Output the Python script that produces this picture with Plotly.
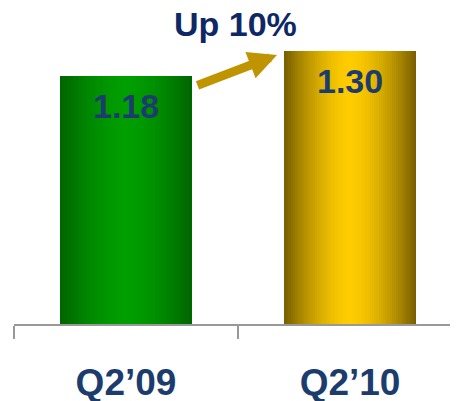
import plotly.graph_objects as go

categories = ["Q2\u201909", "Q2\u201910"]
values = [1.18, 1.30]
value_labels = ["1.18", "1.30"]
headline = "Up 10%"

# gradient colors (edge -> center) per bar
edge_colors = [(0, 100, 0), (118, 93, 0)]
center_colors = [(0, 158, 0), (255, 204, 0)]

FONT = "Arial, Liberation Sans, sans-serif"
NAVY = "#1c3c6e"

fig = go.Figure()

N = 30
BAR_W = 0.59
for i in range(N):
    frac = 1 - i / N               # width fraction of this layer
    t = (N - i - 0.5) / N          # normalized distance from center
    k = t ** 1.6
    cols = []
    for e, c in zip(edge_colors, center_colors):
        rgb = tuple(round(cc + (ee - cc) * k) for ee, cc in zip(e, c))
        cols.append("rgb(%d,%d,%d)" % rgb)
    fig.add_trace(go.Bar(
        x=categories, y=values, width=BAR_W * frac,
        marker=dict(color=cols, line=dict(width=0)),
        showlegend=False, hoverinfo="skip",
    ))

for cat, v, lab in zip(categories, values, value_labels):
    fig.add_annotation(x=cat, y=v, text=lab, showarrow=False,
                       yanchor="middle", yshift=-30,
                       font=dict(family=FONT, size=34, color=NAVY, weight="bold"))

# growth arrow between bars
fig.add_annotation(x=0.674, y=1.28, xref="x", yref="y", text="",
                   showarrow=True, arrowhead=2, arrowsize=0.63, arrowwidth=9,
                   arrowcolor="#bf9400", ax=-81, ay=31, standoff=0)

fig.add_annotation(x=0.5, y=1.428, xref="x", yref="y", text=headline,
                   showarrow=False, xshift=-3, yanchor="middle",
                   font=dict(family=FONT, size=34, color="#0e2866", weight="bold"))

# page body adds an 8px offset; figure sized to end at the window edge
fig.update_layout(
    width=450, height=393,
    margin=dict(l=6, r=0, t=0, b=76.5, autoexpand=False),
    paper_bgcolor="white", plot_bgcolor="white",
    barmode="overlay", bargap=0,
    xaxis=dict(type="category", range=[-0.5, 1.482], tickson="boundaries",
               automargin=False,
               showline=True, linecolor="#999999", linewidth=2,
               ticks="outside", ticklen=13, tickwidth=2, tickcolor="#999999",
               showgrid=False, zeroline=False, ticklabelstandoff=25,
               tickfont=dict(family=FONT, size=37, color=NAVY, weight="bold")),
    yaxis=dict(range=[0, 316.5 / 210.5], visible=False, showgrid=False,
               zeroline=False, automargin=False),
)

fig.write_html("out.html")
